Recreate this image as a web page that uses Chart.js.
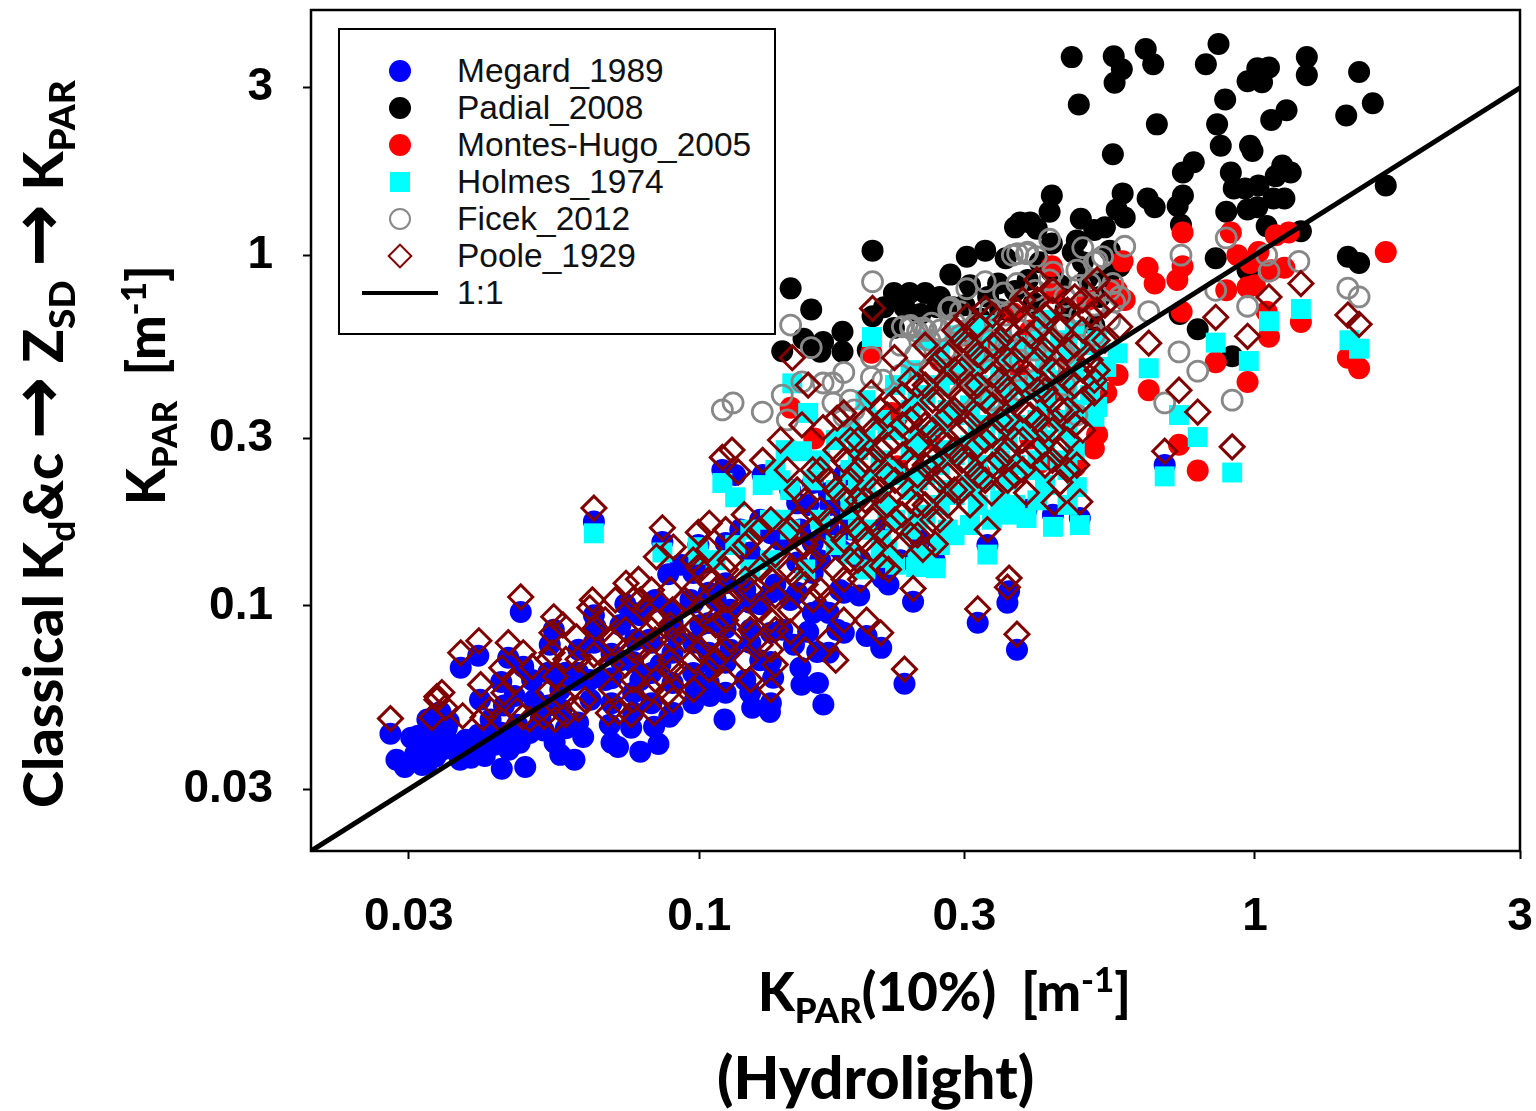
<!DOCTYPE html>
<html lang="en">
<head>
  <meta charset="UTF-8">
  <title>KPAR comparison</title>
  <script src="https://cdn.jsdelivr.net/npm/chart.js"></script>
  <style>
    html, body { margin: 0; padding: 0; background: #fff; }
    #wrap { position: relative; width: 1536px; height: 1111px; overflow: hidden; }
    /* canvas sits 5px higher so the plot box top lands where it should */
    #kparChart { position: absolute; left: 0; top: -5px; }

    .title {
      position: absolute;
      font-family: Lato, sans-serif;
      font-weight: 900;
      color: #000;
      white-space: pre;
      line-height: 1;
    }
    .title sub, .title sup { font-size: 66%; line-height: 0; }
    .title .arrow { font-family: "DejaVu Sans", sans-serif; font-weight: 700; font-size: 135%; line-height: 0; }
    .rot { transform-origin: 0 0; transform: rotate(-90deg); }

    #legend {
      position: absolute;
      left: 338px; top: 28px;
      width: 438px; height: 307px;
      box-sizing: border-box;
      border: 2px solid #000;
      background: #fff;
      font-family: "Liberation Sans", Arial, sans-serif;
      font-size: 33.5px;
      color: #111;
    }
    .row { position: absolute; left: 117px; height: 36px; line-height: 36px; white-space: pre; }
    .mk { position: absolute; box-sizing: border-box; }
  </style>
</head>
<body>
<div id="wrap">
  <canvas id="kparChart" width="1536" height="1116"></canvas>

  <div id="legend"></div>

  <div class="title rot" style="left:14px;top:808px;font-size:56px">Classical K<sub>d</sub>&amp;c <span class="arrow">→</span> Z<sub>SD</sub> <span class="arrow">→</span> K<sub>PAR</sub></div>
  <div class="title rot" style="left:118px;top:505px;font-size:53px">K<sub>PAR</sub>  [m<sup>-1</sup>]</div>
  <div class="title" style="left:758px;top:965px;font-size:52.8px">K<sub>PAR</sub>(10%)  [m<sup>-1</sup>]</div>
  <div class="title" style="left:717px;top:1047px;font-size:59.5px">(Hydrolight)</div>
</div>

<script>
  const tickValues = [0.03, 0.1, 0.3, 1, 3];
  const seriesNames = ['Megard_1989', 'Padial_2008', 'Montes-Hugo_2005', 'Holmes_1974', 'Ficek_2012', 'Poole_1929', '1:1'];

  // [KPAR(10%), KPAR] pairs
  const megard = [
    [.0278,.0432],[.0285,.0364],[.0295,.0347],[.0303,.0421],[.0312,.0426],[.0324,.0357],[.0327,.0402],[.0337,.0429],
    [.0344,.0389],[.0351,.0448],[.036,.0402],[.0371,.0364],[.038,.0415],[.0388,.0369],[.04,.0429],[.0411,.0373],
    [.0372,.0666],[.04,.0721],[.0403,.054],[.0342,.0498],[.0324,.0474],[.0331,.0429],[.0354,.0468],[.0421,.0474],
    [.0441,.0343],[.044,.0435],[.0454,.0389],[.0475,.0407],[.0486,.0347],[.044,.0607],[.0453,.0711],[.0482,.0671],
    [.0477,.0961],[.0505,.054],[.0518,.0474],[.0549,.0407],[.0562,.0376],[.0596,.0364],[.0618,.0423],[.0547,.0855],
    [.0538,.0775],[.0606,.075],[.0646,.174],[.0646,.094],[.0646,.0785],[.065,.0872],[.0562,.0577],[.0598,.0615],
    [.0637,.054],[.069,.0458],[.0695,.0407],[.0714,.0396],[.0754,.0449],[.0783,.0384],[.0844,.0404],[.0829,.0452],
    [.0883,.0483],[.0677,.0615],[.0721,.07],[.0766,.08],[.0721,.0882],[.0736,.101],[.0783,.094],[.0783,.0615],
    [.0833,.104],[.0858,.152],[.0879,.123],[.0813,.08],[.0851,.068],[.0905,.083],[.0964,.104],[.0996,.149],
    [.0985,.0577],[.1045,.0553],[.111,.0474],[.1245,.0512],[.134,.0498],[.1055,.068],[.1137,.075],[.121,.0615],
    [.1287,.07],[.1358,.0624],[.1004,.0882],[.107,.104],[.1137,.0974],[.121,.111],[.1287,.101],[.137,.115],
    [.1457,.104],[.152,.0666],[.1527,.0596],[.1635,.0603],[.1672,.0523],[.148,.0775],[.157,.0843],[.163,.0739],
    [.177,.0855],[.194,.107],[.179,.111],[.165,.0974],[.141,.0855],[.1235,.0855],[.2125,.0759],[.2,.082],
    [.2135,.12],[.219,.115],[.2425,.1027],[.317,.0895],[.3585,.102],[.361,.11],[.373,.075],[.234,.06],
    [.11,.244],[.116,.236],[.13,.236],[.1457,.214],[.157,.194],[.172,.194],[.187,.165],[.1185,.165],
    [.1287,.176],[.1398,.154],[.152,.165],[.165,.135],[.179,.145],[.195,.135],[.212,.165],[.23,.135],
    [.25,.154],[.688,.252],[.484,.178],[.433,.182],[.388,.188],[.33,.149],[.265,.135],[.0886,.0974],[.0925,.131],
    [.0695,.073],[.0695,.0622],[.0695,.0528],[.076,.0955],[.076,.0692],[.076,.0565],[.076,.0496],[.082,.102],
    [.082,.0785],[.082,.0644],[.082,.0528],[.0895,.0894],[.0895,.0735],[.0895,.0603],[.0895,.0496],[.0975,.124],
    [.0975,.102],[.0975,.0785],[.0975,.0644],[.0975,.0528],[.104,.133],[.104,.109],[.104,.0894],[.104,.0735],
    [.104,.0603],[.1115,.151],[.1115,.116],[.1115,.0955],[.1115,.0865],[.1115,.0688],[.1115,.0565],[.1235,.142],
    [.1235,.102],[.1235,.0785],[.1235,.0565],[.1345,.161],[.1345,.109],[.1345,.0838],[.1345,.0692],[.1345,.0528],
    [.15,.196],[.15,.161],[.15,.133],[.15,.109],[.16,.224],[.16,.151],[.16,.124],[.16,.0955],[.171,.21],
    [.171,.165],[.171,.0955],[.171,.0735],[.182,.236],[.182,.185],[.182,.142],[.182,.109],[.182,.0838],
    [.0308,.0378],[.0317,.0352],[.0335,.0372],[.0362,.0389],[.0395,.0402],[.0415,.0415],[.0428,.0402],[.047,.0458],
    [.0495,.0434],[.0525,.0441],[.0575,.0448],[.0605,.0465],[.0535,.052],[.0565,.0506],[.0445,.052],[.0465,.0553],
    [.05,.0615],[.0535,.0645],[.0575,.0645],[.0605,.0645],[.0635,.0615]
  ];

  const padial = [
    [.468,3.67],[.557,3.69],[.576,3.39],[.559,3.10],[.636,3.87],[.656,3.50],[.860,4.0],[.816,3.50],[1.01,3.41],[1.06,3.43],
    [.97,3.13],[1.03,3.11],[1.24,3.67],[1.24,3.26],[1.54,3.33],[1.63,2.71],[1.46,2.5],[.482,2.69],[.884,2.78],[.666,2.36],
    [.855,2.36],[.868,2.05],[1.07,2.43],[1.14,2.59],[.555,1.94],[.98,2.05],[.99,1.98],[.776,1.84],[.742,1.72],[.905,1.72],
    [1.12,1.8],[1.16,1.72],[1.09,1.68],[1.72,1.58],[.431,1.48],[.427,1.33],[.578,1.5],[.564,1.35],[.583,1.28],[.641,1.45],
    [.66,1.37],[.742,1.48],[.726,1.38],[.916,1.55],[.96,1.55],[1.015,1.58],[1.13,1.45],[1.08,1.45],[.888,1.33],[.97,1.35],
    [1.01,1.37],[.736,1.22],[1.05,1.21],[1.21,1.17],[.85,.98],[.97,.906],[1.47,.99],[1.54,.95],[.486,1.27],[.537,1.2],
    [.514,1.18],[.378,1.24],[.394,1.24],[.37,1.2],[.405,1.19],[.478,1.1],[.431,1.08],[.548,1.03],[.47,1.02],[.789,.615],
    [.91,.515],[.732,.68],[.205,1.03],[.146,.804],[.159,.70],[.181,.605],[.167,.565],[.154,.578],[.141,.532],[.159,.545],
    [.165,.53],[.181,.53],[.201,.536],[.205,.67],[.224,.78],[.239,.78],[.255,.78],[.271,.76],[.283,.88],[.303,.99],
    [.327,1.03],[.356,.98],[.307,.82],[.331,.76],[.234,.71],[.268,.71],[.224,.62],[.286,.71],[.37,.79],[.41,.955],
    [.446,.82],[.49,.955],[.526,.76],[.571,.93],[.40,.73],[.348,.70],[.32,.66],[.456,.70],[.514,.63],
    [.215,.71],[.25,.68],[.3,.72],[.345,.83],[.39,.85],[.43,.9],[.5,.86],[.545,.87]
  ];

  const montes = [
    [.741,1.16],[.905,1.16],[1.09,1.14],[1.15,1.16],[1.72,1.02],[.741,.93],[.641,.92],[.66,.83],[.725,.85],[.93,1.0],
    [1.015,1.02],[.98,.95],[1.13,.92],[1.07,.906],[.888,.794],[.97,.81],[1.0,.82],[.738,.69],[.578,.96],[.431,.93],
    [.583,.745],[.564,.794],[1.05,.69],[1.06,.585],[1.21,.645],[1.47,.51],[1.54,.476],[.85,.495],[.97,.435],[.644,.412],
    [.73,.288],[.789,.243],[.566,.455],[.54,.405],[.52,.308],[.513,.281],[.475,.25],[.146,.367],[.161,.30],[.204,.527],
    [.227,.25],[.41,.256],[.32,.239],[.337,.55],[.362,.494],[.378,.455],[.465,.50],[.227,.345],[.278,.345],[.433,.345],
    [.433,.78],[.367,.683],[.499,.745],[.222,.355],[.271,.50],[.30,.59],[.394,.61],[.348,.412],[.446,.412],[.394,.30],[.26,.30]
  ];

  const holmes = [
    [.11,.224],[.116,.204],[.13,.221],[.137,.244],[.143,.278],[.147,.431],[.157,.355],[.153,.276],[.0646,.161],[.0858,.142],
    [.0993,.147],[.0996,.14],[.107,.135],[.116,.149],[.1235,.165],[.1235,.127],[.134,.176],[.134,.135],[.1457,.214],[.1457,.165],
    [.155,.127],[.165,.26],[.165,.176],[.176,.297],[.176,.214],[.176,.149],[.187,.317],[.187,.244],[.187,.188],[.187,.14],
    [.199,.386],[.199,.297],[.199,.228],[.199,.165],[.199,.127],[.212,.339],[.212,.26],[.212,.2],[.212,.154],[.212,.137],
    [.225,.426],[.225,.317],[.225,.236],[.225,.176],[.225,.131],[.2045,.584],[.24,.47],[.24,.362],[.24,.278],[.24,.214],
    [.24,.165],[.2455,.129],[.255,.572],[.255,.399],[.255,.307],[.255,.236],[.255,.182],[.255,.135],[.2665,.128],[.271,.536],
    [.271,.426],[.271,.328],[.271,.252],[.271,.194],[.271,.149],[.288,.591],[.288,.455],[.288,.35],[.288,.269],[.288,.207],
    [.288,.159],[.307,.611],[.307,.486],[.307,.373],[.307,.287],[.307,.221],[.307,.17],[.327,.632],[.327,.502],[.327,.386],
    [.327,.297],[.327,.228],[.33,.14],[.336,.176],[.348,.572],[.348,.44],[.348,.339],[.348,.26],[.348,.2],[.37,.554],
    [.37,.426],[.37,.328],[.37,.252],[.37,.194],[.394,.536],[.394,.412],[.394,.317],[.394,.244],[.388,.178],[.419,.654],
    [.419,.502],[.419,.386],[.419,.297],[.419,.221],[.446,.572],[.446,.44],[.446,.339],[.446,.26],[.433,.168],[.474,.611],
    [.474,.47],[.474,.362],[.474,.278],[.484,.17],[.478,.218],[.505,.554],[.505,.399],[.514,.346],[.52,.369],[.54,.48],
    [.566,.525],[.688,.234],[.73,.35],[.789,.303],[.91,.24],[.85,.563],[.975,.499],[1.06,.648],[1.21,.702],[1.48,.572],
    [1.54,.541],[.644,.476],
    [.193,.278],[.193,.214],[.193,.165],[.218,.317],[.218,.244],[.218,.188],[.218,.145],[.247,.386],[.247,.297],[.247,.228],
    [.247,.176],[.247,.14],[.28,.47],[.28,.362],[.28,.278],[.28,.214],[.28,.165],[.317,.554],[.317,.426],[.317,.328],
    [.317,.252],[.317,.194],[.359,.502],[.359,.386],[.359,.297],[.359,.228],[.359,.182],[.406,.572],[.406,.44],[.406,.339],
    [.406,.26],[.406,.2],[.46,.536],[.46,.412],[.46,.317],[.46,.244],[.46,.194],[.52,.572],[.52,.44],[.14,.228],[.14,.176],[.16,.228]
  ];

  const ficek = [
    [.146,.632],[.159,.545],[.205,.84],[.327,.84],[.281,.701],[.303,.802],[.427,1.11],[.49,1.05],[.583,1.06],[.374,1.01],
    [.366,1.0],[.388,1.01],[.404,.99],[.514,.955],[.532,.99],[.373,.83],[.353,.78],[.478,.906],[.24,.62],[.247,.605],
    [.253,.62],[.271,.611],[.283,.71],[.1298,.357],[.141,.399],[.144,.339],[.153,.435],[.167,.432],[.174,.432],[.182,.463],
    [.174,.379],[.187,.386],[.19,.362],[.182,.347],[.204,.448],[.204,.512],[.214,.44],[.11,.362],[.115,.379],[.736,1.0],
    [.888,1.12],[1.05,1.0],[1.06,.9],[1.2,.96],[1.47,.805],[1.54,.76],[.85,.794],[.97,.715],[.644,.69],[.39,1.02],
    [.52,.965],[.433,.895],[.555,.83],[.571,.762],[.559,.735],[.505,.83],[.73,.53],[.789,.467],[.91,.386],[.688,.379],
    [.478,.35],[.23,.554],[.23,.455],[.245,.52],[.26,.572],[.26,.47],[.277,.536],[.277,.426],[.295,.591],[.295,.486],
    [.295,.399],[.314,.632],[.314,.52],[.314,.426],[.334,.697],[.334,.572],[.334,.47],[.334,.386],[.356,.675],[.356,.554],
    [.356,.455],[.378,.745],[.378,.611],[.378,.502],[.378,.412],[.402,.794],[.402,.654],[.402,.536],[.402,.44],[.427,.85],
    [.427,.697],[.427,.572],[.427,.47],[.455,.76],[.455,.632],[.455,.52],[.455,.426],[.484,.82],[.484,.675],[.484,.554],
    [.514,.72],[.514,.591],[.548,.794],[.548,.654],
    [.232,.625],[.24,.63],[.256,.61],[.262,.64],[.295,.69],[.288,.64]
  ];

  const poole = [
    [.0278,.0477],[.033,.048],[.0337,.0551],[.0344,.0566],[.0337,.054],[.0349,.0513],[.0375,.0486],[.0401,.0795],[.0372,.0735],[.0408,.048],
    [.0437,.0477],[.0404,.0596],[.0441,.0666],[.0453,.0785],[.0482,.0735],[.0477,.106],[.0481,.0483],[.055,.0474],[.0547,.0931],[.0568,.0882],
    [.0543,.0838],[.0601,.0816],[.0642,.104],[.0635,.0987],[.065,.0865],[.0646,.0725],[.0543,.0735],[.055,.0628],[.0622,.054],[.0686,.0495],
    [.0716,.0498],[.0754,.049],[.0829,.0495],[.0879,.0565],[.0704,.0785],[.0738,.116],[.0777,.119],[.0796,.0974],[.0646,.19],[.0858,.167],
    [.0898,.147],[.0837,.138],[.0996,.162],[.1042,.172],[.0996,.129],[.0677,.0912],[.0706,.104],[.0736,.0855],[.0736,.068],[.0783,.075],
    [.0783,.104],[.0833,.08],[.0833,.0912],[.0833,.0615],[.0886,.111],[.0886,.0882],[.0886,.07],[.0942,.104],[.0942,.08],[.0942,.0636],
    [.1004,.127],[.1004,.0974],[.1004,.075],[.107,.111],[.107,.0882],[.107,.07],[.1137,.135],[.1137,.104],[.1137,.08],[.121,.149],
    [.121,.119],[.121,.0912],[.121,.07],[.1287,.165],[.1287,.127],[.1287,.0974],[.1287,.0775],[.137,.14],[.137,.107],[.137,.0855],
    [.137,.068],[.1457,.165],[.1457,.127],[.1457,.0974],[.1457,.0843],[.155,.2],[.155,.149],[.155,.115],[.155,.075],[.1145,.278],
    [.11,.265],[.1175,.241],[.1205,.182],[.13,.26],[.144,.244],[.14,.297],[.153,.328],[.167,.322],[.177,.343],[.182,.355],
    [.147,.51],[.157,.426],[.204,.405],[.2245,.51],[.205,.705],[.165,.244],[.165,.188],[.165,.145],[.165,.111],[.176,.278],
    [.176,.214],[.176,.165],[.176,.127],[.176,.07],[.187,.297],[.187,.228],[.187,.176],[.187,.135],[.199,.339],[.199,.26],
    [.199,.2],[.199,.154],[.195,.119],[.2135,.13],[.219,.127],[.2,.091],[.212,.0838],[.212,.362],[.212,.278],[.212,.214],
    [.212,.165],[.225,.386],[.225,.297],[.225,.228],[.225,.176],[.234,.066],[.2425,.112],[.24,.44],[.24,.339],[.24,.26],
    [.24,.2],[.24,.159],[.2525,.145],[.255,.554],[.255,.426],[.255,.328],[.255,.252],[.255,.194],[.266,.15],[.271,.502],
    [.271,.386],[.271,.297],[.271,.228],[.271,.176],[.288,.611],[.288,.47],[.288,.362],[.288,.278],[.288,.214],[.303,.668],
    [.307,.554],[.307,.426],[.307,.328],[.307,.252],[.307,.194],[.327,.705],[.327,.502],[.327,.386],[.327,.297],[.327,.228],
    [.336,.21],[.33,.165],[.317,.098],[.348,.572],[.348,.44],[.348,.339],[.348,.26],[.356,.654],[.361,.12],[.3585,.113],
    [.373,.083],[.37,.502],[.37,.386],[.37,.297],[.37,.236],[.373,.697],[.394,.591],[.394,.455],[.394,.35],[.394,.269],
    [.388,.21],[.405,.85],[.419,.675],[.419,.536],[.419,.412],[.419,.317],[.419,.252],[.433,.794],[.435,.197],[.446,.611],
    [.446,.47],[.446,.362],[.446,.278],[.446,.225],[.474,.76],[.474,.554],[.474,.426],[.474,.328],[.478,.252],[.484,.198],
    [.505,.675],[.505,.502],[.514,.44],[.514,.405],[.52,.85],[.537,.72],[.537,.572],[.571,.625],[.644,.561],[.73,.412],
    [.789,.357],[.688,.276],[.91,.284],[.85,.665],[.97,.587],[1.06,.76],[1.21,.83],[1.47,.675],[1.54,.635],
    [.193,.297],[.193,.244],[.193,.2],[.193,.165],[.193,.135],[.2055,.317],[.2055,.26],[.2055,.214],[.2055,.176],[.2055,.145],
    [.218,.35],[.218,.287],[.218,.236],[.218,.194],[.218,.159],[.232,.399],[.232,.328],[.232,.269],[.232,.221],[.232,.182],
    [.232,.149],[.247,.426],[.247,.35],[.247,.287],[.247,.236],[.247,.194],[.247,.159],[.263,.47],[.263,.386],[.263,.317],
    [.263,.26],[.263,.214],[.263,.176],[.28,.52],[.28,.426],[.28,.35],[.28,.287],[.28,.236],[.28,.194],[.297,.572],
    [.297,.47],[.297,.386],[.297,.317],[.297,.26],[.297,.214],[.317,.632],[.317,.52],[.317,.426],[.317,.35],[.317,.287],
    [.317,.236],[.337,.675],[.337,.554],[.337,.455],[.337,.373],[.337,.307],[.337,.252],[.359,.611],[.359,.502],[.359,.412],
    [.359,.339],[.359,.278],[.359,.228],[.382,.745],[.382,.654],[.382,.536],[.382,.44],[.382,.362],[.382,.297],[.382,.244],
    [.406,.745],[.406,.611],[.406,.502],[.406,.412],[.406,.339],[.406,.278],[.432,.697],[.432,.572],[.432,.47],[.432,.386],
    [.432,.317],[.432,.26],[.46,.697],[.46,.536],[.46,.44],[.46,.362],[.46,.297],[.46,.244],[.49,.745],[.49,.611],
    [.49,.47],[.49,.386],[.49,.317],[.52,.697],[.52,.572],[.52,.47],
    [.15,.214],[.15,.176],[.15,.145],[.15,.119],[.16,.244],[.16,.165],[.16,.135],[.16,.104],[.171,.228],[.171,.176],
    [.171,.104],[.171,.08],[.182,.26],[.182,.2],[.182,.154],[.182,.119],[.182,.091],
    [.0695,.08],[.0695,.068],[.0695,.0577],[.076,.104],[.076,.075],[.076,.0615],[.076,.054],[.082,.111],[.082,.0855],
    [.082,.07],[.082,.0577],[.0895,.0974],[.0895,.08],[.0895,.066],[.0895,.054],[.0975,.135],[.0975,.111],[.0975,.0855],
    [.0975,.07],[.0975,.0577],[.104,.145],[.104,.119],[.104,.0974],[.104,.08],[.104,.066],[.1115,.165],[.1115,.127],
    [.1115,.104],[.1115,.091],[.1115,.075],[.1115,.0615],[.1235,.154],[.1235,.111],[.1235,.0855],[.1235,.0615],[.1345,.176],
    [.1345,.119],[.1345,.091],[.1345,.075],[.1345,.0577],
    [.042,.0506],[.0445,.0565],[.0465,.0605],[.05,.0671],[.0535,.0704],[.0575,.0704],[.0605,.0704],[.0635,.0671],
    [.047,.0503],[.0495,.0475],[.0525,.0483],[.0575,.0489],[.0605,.0508],[.0535,.0568],[.0565,.0553]
  ];

  const oneToOne = [[0.02, 0.02], [3, 3]];

  const toXY = pts => pts.map(p => ({ x: p[0], y: p[1] }));

  // chart.js draws lower "order" on top, so the original plot order is reversed here
  const datasets = [
    { label: seriesNames[0], data: toXY(megard), order: 6, pointStyle: 'circle', pointRadius: 11, backgroundColor: '#0000ff', borderColor: '#0000ff', borderWidth: 0 },
    { label: seriesNames[1], data: toXY(padial), order: 5, pointStyle: 'circle', pointRadius: 11, backgroundColor: '#000000', borderColor: '#000000', borderWidth: 0 },
    { label: seriesNames[2], data: toXY(montes), order: 4, pointStyle: 'circle', pointRadius: 11, backgroundColor: '#ff0000', borderColor: '#ff0000', borderWidth: 0 },
    { label: seriesNames[3], data: toXY(holmes), order: 3, pointStyle: 'rect', pointRadius: 14.1, backgroundColor: '#00ffff', borderColor: '#00ffff', borderWidth: 0 },
    { label: seriesNames[4], data: toXY(ficek), order: 2, pointStyle: 'circle', pointRadius: 10, backgroundColor: 'rgba(0,0,0,0)', borderColor: '#888888', borderWidth: 2.8 },
    { label: seriesNames[5], data: toXY(poole), order: 1, pointStyle: 'rectRot', pointRadius: 12, backgroundColor: 'rgba(0,0,0,0)', borderColor: '#800000', borderWidth: 3 },
    { label: seriesNames[6], data: toXY(oneToOne), order: 0, showLine: true, pointRadius: 0, borderColor: '#000000', borderWidth: 5 }
  ];

  const plotFrame = {
    id: 'plotFrame',
    afterDatasetsDraw(chart) {
      const { ctx, chartArea: a } = chart;
      ctx.save();
      ctx.strokeStyle = '#000';
      ctx.lineWidth = 2.5;
      ctx.strokeRect(a.left, a.top, a.right - a.left, a.bottom - a.top);
      ctx.restore();
    }
  };

  const tickFont = { family: '"Liberation Sans", Arial, sans-serif', size: 46, weight: 'bold' };

  function logAxis(min, max, tickPad, size) {
    return {
      type: 'logarithmic',
      min: min,
      max: max,
      afterBuildTicks: scale => { scale.ticks = tickValues.map(v => ({ value: v })); },
      afterFit: scale => {
        size(scale);
        // no room kept for half labels, the plot box is fixed
        scale.paddingTop = scale.paddingBottom = scale.paddingLeft = scale.paddingRight = 0;
      },
      border: { display: false },
      grid: { drawOnChartArea: false, drawTicks: true, tickLength: 8, tickWidth: 2, color: '#000' },
      ticks: {
        color: '#000',
        font: tickFont,
        padding: tickPad,
        autoSkip: false,
        maxRotation: 0,
        callback: v => String(v)
      }
    };
  }

  new Chart(document.getElementById('kparChart').getContext('2d'), {
    type: 'scatter',
    data: { datasets: datasets },
    options: {
      responsive: false,
      animation: false,
      layout: { padding: { top: 4, right: 16 } },
      plugins: { legend: { display: false }, tooltip: { enabled: false } },
      scales: {
        x: logAxis(0.02, 3, 31, s => { s.height = 260; }),
        y: logAxis(0.02, 5, 30, s => { s.width = 311; })
      }
    },
    plugins: [plotFrame]
  });

  // legend box, same styles as the datasets
  const legendBox = document.getElementById('legend');
  seriesNames.forEach((name, i) => {
    const cy = 41 + i * 37;
    const row = document.createElement('div');
    row.className = 'row';
    row.style.top = (cy - 18) + 'px';
    row.textContent = name;
    legendBox.appendChild(row);

    const mk = document.createElement('div');
    mk.className = 'mk';
    const cx = 60;
    const place = (w, h) => {
      mk.style.width = w + 'px';
      mk.style.height = h + 'px';
      mk.style.left = (cx - w / 2) + 'px';
      mk.style.top = (cy - h / 2) + 'px';
    };
    if (i < 3) {
      place(22, 22);
      mk.style.borderRadius = '50%';
      mk.style.background = datasets[i].backgroundColor;
    } else if (i === 3) {
      place(20, 20);
      mk.style.background = datasets[i].backgroundColor;
    } else if (i === 4) {
      place(22, 22);
      mk.style.borderRadius = '50%';
      mk.style.border = '2.5px solid #888888';
    } else if (i === 5) {
      place(18, 18);
      mk.style.border = '2.5px solid #800000';
      mk.style.transform = 'rotate(45deg)';
    } else {
      place(76, 4.5);
      mk.style.background = '#000';
    }
    legendBox.appendChild(mk);
  });
</script>
</body>
</html>
